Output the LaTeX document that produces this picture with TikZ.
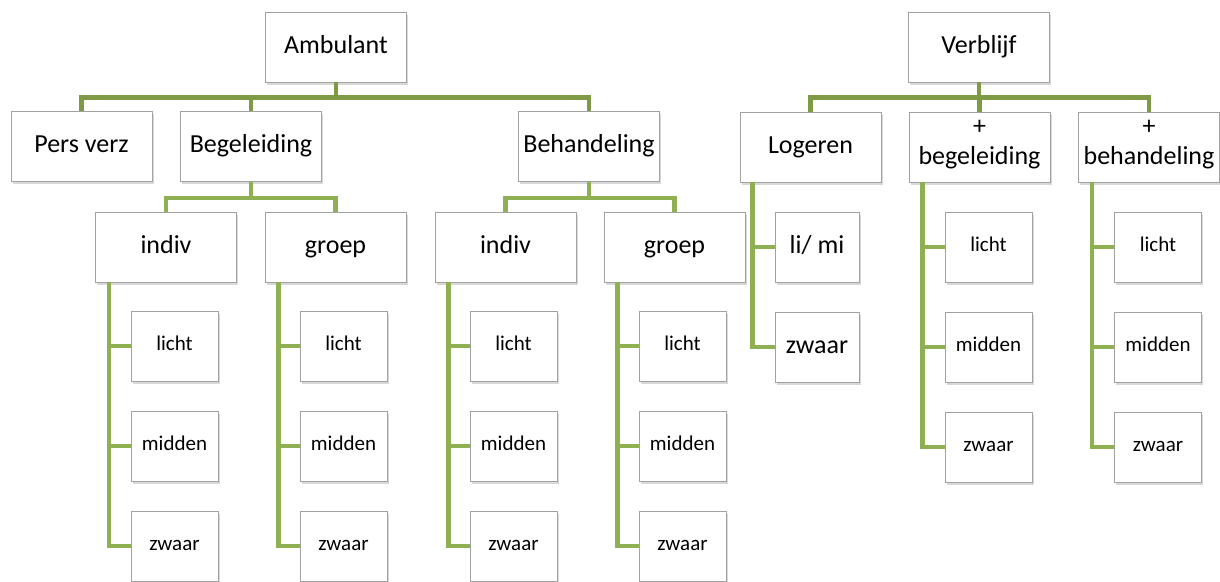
\documentclass[tikz,border=0pt]{standalone}
\usepackage{fontspec}
\setmainfont{Carlito}
\usepackage{tikz}
\usetikzlibrary{shadows}
\definecolor{olivetop}{HTML}{7E9A45}
\definecolor{olivesub}{HTML}{8FB052}
\definecolor{boxline}{HTML}{A2A2A2}

\begin{document}
\begin{tikzpicture}[x=1pt,y=-1pt]
\tikzstyle{every node}+=[inner sep=0pt]
\tikzstyle{unit}=[draw=boxline,line width=0.9pt,fill=white,minimum width=141pt,minimum height=70pt,
  align=center,font=\fontsize{26}{30}\selectfont,execute at begin node={\strut},
  drop shadow={opacity=0.3,shadow xshift=1.5pt,shadow yshift=-2.5pt}]
\tikzstyle{leaf}=[unit,minimum width=87pt,font=\fontsize{21}{24}\selectfont]
\tikzstyle{bigleaf}=[unit,minimum width=84pt]
\tikzstyle{topline}=[draw=olivetop,line width=4.5pt]
\tikzstyle{subline}=[draw=olivesub,line width=4.5pt]
\useasboundingbox (0,0) rectangle (1220,581);
\fill[white] (0,0) rectangle (1220,581);
\coordinate (ambC) at (336,47);
\coordinate (verC) at (979,47);
\node[unit] (amb) at (ambC) {Ambulant};
\node[unit] (pers) at (81.5,146.5) {Pers verz};
\node[unit] (beg) at (251,146.5) {Begeleiding};
\node[unit] (beh) at (589,146.5) {Behandeling};
\node[unit] (bgi) at (166,247) {indiv};
\node[unit] (bgg) at (335.5,247) {groep};
\node[unit] (bhi) at (505.5,247) {indiv};
\node[unit] (bhg) at (674.5,247) {groep};
\node[leaf] (bgi1) at (174.5,346) {licht};
\node[leaf] (bgi2) at (174.5,446) {midden};
\node[leaf] (bgi3) at (174.5,546) {zwaar};
\node[leaf] (bgg1) at (343.5,346) {licht};
\node[leaf] (bgg2) at (343.5,446) {midden};
\node[leaf] (bgg3) at (343.5,546) {zwaar};
\node[leaf] (bhi1) at (513.5,346) {licht};
\node[leaf] (bhi2) at (513.5,446) {midden};
\node[leaf] (bhi3) at (513.5,546) {zwaar};
\node[leaf] (bhg1) at (682.5,346) {licht};
\node[leaf] (bhg2) at (682.5,446) {midden};
\node[leaf] (bhg3) at (682.5,546) {zwaar};
\node[unit] (ver) at (verC) {Verblijf};
\node[unit] (log) at (810.5,147) {Logeren};
\node[unit] (pbg) at (979.5,147) {+\\begeleiding};
\node[unit] (pbh) at (1149,147) {+\\behandeling};
\node[bigleaf] (log1) at (817,247) {li/ mi};
\node[bigleaf] (log2) at (817,347) {zwaar};
\node[leaf] (pbg1) at (988.5,247) {licht};
\node[leaf] (pbg2) at (988.5,347) {midden};
\node[leaf] (pbg3) at (988.5,447) {zwaar};
\node[leaf] (pbh1) at (1158,247) {licht};
\node[leaf] (pbh2) at (1158,347) {midden};
\node[leaf] (pbh3) at (1158,447) {zwaar};
% connectors
\draw[topline] (amb.south) -- ++(0,15) -| (pers.north);
\draw[topline] (amb.south) -- ++(0,15) -| (beg.north);
\draw[topline] (amb.south) -- ++(0,15) -| (beh.north);
\draw[subline] (beg.south) -- ++(0,16) -| (bgi.north);
\draw[subline] (beg.south) -- ++(0,16) -| (bgg.north);
\draw[subline] (beh.south) -- ++(0,16) -| (bhi.north);
\draw[subline] (beh.south) -- ++(0,16) -| (bhg.north);
\draw[topline] (ver.south) -- ++(0,15) -| (log.north);
\draw[topline] (ver.south) -- ++(0,15) -| (pbg.north);
\draw[topline] (ver.south) -- ++(0,15) -| (pbh.north);
\foreach \p in {bgi,bgg,bhi,bhg,pbg,pbh}{
  \coordinate (\p s) at ([xshift=14pt]\p.south west);
  \foreach \k in {1,2,3}
    \draw[subline] (\p s) |- (\p\k.west);
}
\coordinate (logs) at ([xshift=13pt]log.south west);
\draw[subline] (logs) |- (log1.west);
\draw[subline] (logs) |- (log2.west);
\end{tikzpicture}
\end{document}
